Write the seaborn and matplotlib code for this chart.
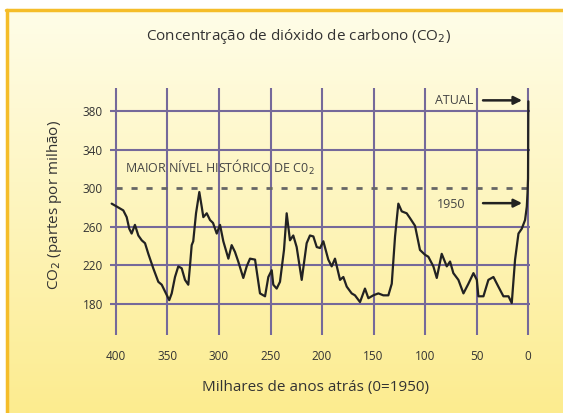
import numpy as np
import pandas as pd
import matplotlib
matplotlib.use("Agg")
import matplotlib.pyplot as plt
from matplotlib.lines import Line2D
from matplotlib.colors import LinearSegmentedColormap
import seaborn as sns

# ------------------------------------------------------------
# Dados (milhares de anos atrás, ppm de CO2)
# ------------------------------------------------------------
anos_mil = [
    404.2, 399.3, 392.9, 389.6, 387.1, 384.8, 381.6, 378.3, 375.0, 371.8,
    368.6, 367.0, 363.8, 358.9, 355.6, 352.4, 348.3, 345.9, 342.7, 339.5,
    336.2, 333.0, 329.8, 328.2, 326.5, 325.0, 322.3, 319.1, 316.8, 315.2,
    311.9, 308.7, 305.8, 302.2, 299.0, 295.8, 290.9, 287.7, 284.5, 281.3,
    276.4, 273.1, 269.9, 265.0, 260.2, 255.3, 252.1, 248.8, 247.3, 244.0,
    240.8, 236.9, 234.3, 231.1, 227.9, 224.6, 219.7, 214.9, 211.7, 208.4,
    205.1, 201.9, 198.7, 193.9, 190.6, 187.4, 182.5, 179.3, 176.0, 171.2,
    168.0, 163.1, 158.3, 155.0, 150.2, 145.3, 140.5, 135.6, 132.3, 129.1,
    125.9, 122.6, 117.8, 114.6, 109.7, 104.9, 100.0, 96.8, 91.9, 88.6,
    83.8, 78.9, 75.7, 72.5, 67.6, 62.7, 57.9, 53.0, 49.7, 48.2,
    43.3, 38.5, 33.6, 28.8, 23.9, 19.0, 15.8, 12.6, 9.3, 6.1,
    2.9, 1.2, 0.5, 0.0, -0.3,
]
co2_ppm = [
    284, 281, 277, 270, 258, 253, 262, 251, 246, 243,
    232, 227, 217, 203, 200, 193, 184, 191, 208, 219,
    217, 205, 200, 219, 241, 245, 274, 296, 281, 270,
    274, 267, 264, 253, 262, 245, 227, 241, 234, 224,
    207, 219, 227, 226, 191, 188, 208, 215, 200, 196,
    203, 236, 274, 246, 251, 239, 205, 243, 251, 250,
    239, 238, 245, 226, 219, 227, 205, 208, 198, 191,
    189, 182, 196, 186, 189, 191, 189, 189, 201, 250,
    284, 276, 274, 269, 261, 236, 231, 229, 219, 207,
    232, 219, 224, 212, 205, 191, 201, 212, 205, 188,
    188, 205, 208, 198, 188, 188, 181, 226, 253, 258,
    267, 281, 295, 310, 390,
]

x_ticks = [400, 350, 300, 250, 200, 150, 100, 50, 0]
y_ticks = [180, 220, 260, 300, 340, 380]
maior_nivel = 300

titulo = "Concentração de dióxido de carbono (CO$_2$)"
rotulo_x = "Milhares de anos atrás (0=1950)"
rotulo_y = "CO$_2$ (partes por milhão)"

df = pd.DataFrame({"anos": anos_mil, "co2": co2_ppm})

sns.set_style("white")
plt.rcParams["font.family"] = ["Open Sans", "DejaVu Sans"]
plt.rcParams["mathtext.fontset"] = "dejavusans"

W, H = 563, 413
fig = plt.figure(figsize=(W / 100, H / 100), dpi=100)
fig.patch.set_facecolor("white")

# fundo em degradê (creme -> amarelo)
bg = fig.add_axes([7 / W, 0, 1 - 7 / W, (H - 10) / H], zorder=-10)
cmap = LinearSegmentedColormap.from_list(
    "fundo", [(1.0, 0.992, 0.91), (0.995, 0.96, 0.74), (0.99, 0.925, 0.56)]
)
bg.imshow(np.linspace(0, 1, 256).reshape(-1, 1), aspect="auto", cmap=cmap,
          extent=[0, 1, 0, 1])
bg.set_axis_off()

# moldura laranja (topo e esquerda)
borda = "#f5bd2a"
fig.add_artist(Line2D([6 / W, 1], [1 - 10 / H, 1 - 10 / H], color=borda, lw=2.5,
                      transform=fig.transFigure))
fig.add_artist(Line2D([7 / W, 7 / W], [0, 1 - 10 / H], color=borda, lw=2.5,
                      transform=fig.transFigure))

# eixo principal
ax = fig.add_axes([110 / W, (H - 335) / H, 420 / W, 247 / H])
ax.set_facecolor("none")
ax.set_xlim(405.8, -1.9)
ax.set_ylim(147.9, 403.8)

# grade (a linha de 300 é a tracejada)
grade = "#75699a"
for yv in y_ticks:
    if yv != maior_nivel:
        ax.axhline(yv, color=grade, lw=1.5, zorder=1)
for xv in x_ticks:
    ax.axvline(xv, color=grade, lw=1.5, zorder=1)

# linha tracejada do maior nível histórico
ax.plot([400, -1.9], [maior_nivel, maior_nivel], color="#666666", lw=2.0,
        linestyle=(0, (2.2, 3.2)), zorder=2)

sns.lineplot(data=df, x="anos", y="co2", ax=ax, color="#222222", lw=1.6,
             sort=False, zorder=3)

for s in ax.spines.values():
    s.set_visible(False)

texto = "#333333"
ax.set_xticks(x_ticks)
ax.set_yticks(y_ticks)
ax.set_xticklabels([str(v) for v in x_ticks])
ax.set_yticklabels([str(v) for v in y_ticks])
ax.tick_params(axis="x", length=0, pad=11, labelsize=8.5, labelcolor=texto)
ax.tick_params(axis="y", length=0, pad=5, labelsize=8.5, labelcolor=texto)
ax.set_xlabel("")
ax.set_ylabel("")

ax.text(391.3, 321, "MAIOR NÍVEL HISTÓRICO DE C0$_2$", fontsize=9,
        color="#444444", ha="left", va="center", zorder=4)
ax.text(53.4, 391, "ATUAL", fontsize=9, color="#444444", ha="right",
        va="center", zorder=4)
ax.text(61.2, 283, "1950", fontsize=9, color="#444444", ha="right",
        va="center", zorder=4)
for yv in (391, 284.5):
    ax.annotate("", xy=(5.8, yv), xytext=(43.7, yv),
                arrowprops=dict(arrowstyle="-|>", color="#222222", lw=1.8,
                                mutation_scale=12, shrinkA=0, shrinkB=0),
                zorder=4)

fig.text(299 / W, 1 - 37 / H, titulo, fontsize=11, color=texto,
         ha="center", va="center")
fig.text(316 / W, 1 - 388 / H, rotulo_x, fontsize=11, color=texto,
         ha="center", va="center")
fig.text(55 / W, 1 - 205 / H, rotulo_y, fontsize=11, color=texto,
         ha="center", va="center", rotation=90)

fig.savefig("out.png", dpi=100)
